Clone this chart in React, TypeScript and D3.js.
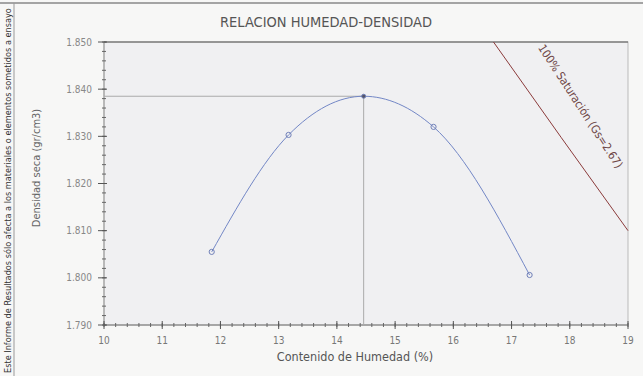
import { useEffect, useRef } from "react";
import * as d3 from "d3";

// moisture content (%) and dry density (gr/cm3) of the compaction points
const moisture = [11.85, 13.17, 14.46, 15.66, 17.31];
const density = [1.8055, 1.8303, 1.8385, 1.832, 1.8006];

// zero air voids line, 100% saturation
const saturationMoisture = [16.69, 17.85, 19.0];
const saturationDensity = [1.85, 1.8298, 1.81];

const optimumMoisture = 14.46;
const maxDensity = 1.8385;

const xTicks = [10, 11, 12, 13, 14, 15, 16, 17, 18, 19];
const yTicks = [1.79, 1.8, 1.81, 1.82, 1.83, 1.84, 1.85];

const title = "RELACION HUMEDAD-DENSIDAD";
const xTitle = "Contenido de Humedad (%)";
const yTitle = "Densidad seca (gr/cm3)";
const sideNote =
  "Este Informe de Resultados sólo afecta a los materiales o elementos sometidos a ensayo";
const saturationLabel = "100% Saturación (Gs=2.67)";

const width = 643;
const height = 376;
const margin = { top: 42, right: 15, bottom: 51, left: 104 };
const font = "'Liberation Sans Narrow', 'DejaVu Sans Condensed', 'DejaVu Sans', sans-serif";

const App = () => {
  const xAxisRef = useRef<SVGGElement>(null);
  const yAxisRef = useRef<SVGGElement>(null);

  const x = d3
    .scaleLinear()
    .domain([10, 19])
    .range([margin.left, width - margin.right]);
  const y = d3
    .scaleLinear()
    .domain([1.79, 1.85])
    .range([height - margin.bottom, margin.top]);

  useEffect(() => {
    // minor ticks first, then major ticks crossing the axis line
    const xMinor = d3.range(10, 19.001, 0.2);
    const xa = d3.select(xAxisRef.current);
    xa.selectAll("*").remove();
    xa.selectAll("line.minor")
      .data(xMinor)
      .join("line")
      .attr("x1", (d) => x(d))
      .attr("x2", (d) => x(d))
      .attr("y1", -2)
      .attr("y2", 2)
      .attr("stroke", "#666");
    xa.selectAll("line.major")
      .data(xTicks)
      .join("line")
      .attr("x1", (d) => x(d))
      .attr("x2", (d) => x(d))
      .attr("y1", -4)
      .attr("y2", 4)
      .attr("stroke", "#555");
    xa.selectAll("text")
      .data(xTicks)
      .join("text")
      .attr("x", (d) => x(d))
      .attr("y", 19)
      .attr("text-anchor", "middle")
      .attr("font-size", 10)
      .attr("fill", "#777")
      .text((d) => d3.format("d")(d));

    const yMinor = d3.range(1.79, 1.8501, 0.002);
    const ya = d3.select(yAxisRef.current);
    ya.selectAll("*").remove();
    ya.selectAll("line.minor")
      .data(yMinor)
      .join("line")
      .attr("y1", (d) => y(d))
      .attr("y2", (d) => y(d))
      .attr("x1", -2)
      .attr("x2", 2)
      .attr("stroke", "#666");
    ya.selectAll("line.major")
      .data(yTicks)
      .join("line")
      .attr("y1", (d) => y(d))
      .attr("y2", (d) => y(d))
      .attr("x1", -6)
      .attr("x2", 3)
      .attr("stroke", "#555");
    ya.selectAll("text")
      .data(yTicks)
      .join("text")
      .attr("x", -12)
      .attr("y", (d) => y(d))
      .attr("dy", "0.35em")
      .attr("text-anchor", "end")
      .attr("font-size", 10)
      .attr("fill", "#888")
      .text((d) => d3.format(".3f")(d));
  }, []);

  const points: [number, number][] = moisture.map((m, i) => [m, density[i]]);
  const curve = d3
    .line<[number, number]>()
    .x((d) => x(d[0]))
    .y((d) => y(d[1]))
    .curve(d3.curveMonotoneX)(points);

  const saturation = d3
    .line<number>()
    .x((d) => x(d))
    .y((_, i) => y(saturationDensity[i]))(saturationMoisture);

  const x0 = x.range()[0];
  const x1 = x.range()[1];
  const y0 = y.range()[0];
  const y1 = y.range()[1];

  return (
    <div style={{ position: "absolute", left: 0, top: 0 }}>
      <svg width={width} height={height} fontFamily={font} style={{ fontStretch: "condensed" }}>
        <rect width={width} height={height} fill="#f7f7f6" />
        {/* page frame */}
        <line x1={0} x2={width} y1={3} y2={3} stroke="#888" strokeWidth={1.5} />
        <line x1={14} x2={14} y1={3} y2={height} stroke="#999" />
        <text
          transform={`translate(10.5,${height - 3}) rotate(-90)`}
          fontSize={9.1}
          fill="#333"
        >
          {sideNote}
        </text>

        <text x={326} y={27} textAnchor="middle" fontSize={14.5} fill="#555">
          {title}
        </text>

        {/* plot area */}
        <rect x={x0} y={y1} width={x1 - x0} height={y0 - y1} fill="#f0f0f2" stroke="#bbb" />
        <line x1={x0} x2={x1} y1={y1} y2={y1} stroke="#555" strokeWidth={1.2} />
        <line x1={x0} x2={x1} y1={y0} y2={y0} stroke="#777" />
        <line x1={x0} x2={x0} y1={y1} y2={y0} stroke="#999" />

        {/* optimum guide lines */}
        <line x1={x0} x2={x(optimumMoisture)} y1={y(maxDensity)} y2={y(maxDensity)} stroke="#aaa" />
        <line x1={x(optimumMoisture)} x2={x(optimumMoisture)} y1={y(maxDensity)} y2={y0} stroke="#aaa" />

        {/* saturation line */}
        <path d={saturation ?? ""} fill="none" stroke="#8b3b3b" strokeWidth={1} />
        <text
          transform={`translate(${x(17.45)},${y(1.8488)}) rotate(57)`}
          fontSize={11.5}
          fill="#6e4646"
        >
          {saturationLabel}
        </text>

        {/* compaction curve */}
        <path d={curve ?? ""} fill="none" stroke="#7387c6" strokeWidth={1} />
        {points.map(([m, dd], i) => (
          <circle
            key={i}
            cx={x(m)}
            cy={y(dd)}
            r={i === 2 ? 2 : 2.6}
            fill={i === 2 ? "#556" : "none"}
            stroke="#7080b8"
          />
        ))}

        <g ref={xAxisRef} transform={`translate(0,${y0})`} />
        <g ref={yAxisRef} transform={`translate(${x0},0)`} />

        <text x={355} y={361} textAnchor="middle" fontSize={12.5} fill="#555">
          {xTitle}
        </text>
        <text
          transform={`translate(40,168) rotate(-90)`}
          textAnchor="middle"
          fontSize={11}
          fill="#666"
        >
          {yTitle}
        </text>
      </svg>
    </div>
  );
};

export default App;
